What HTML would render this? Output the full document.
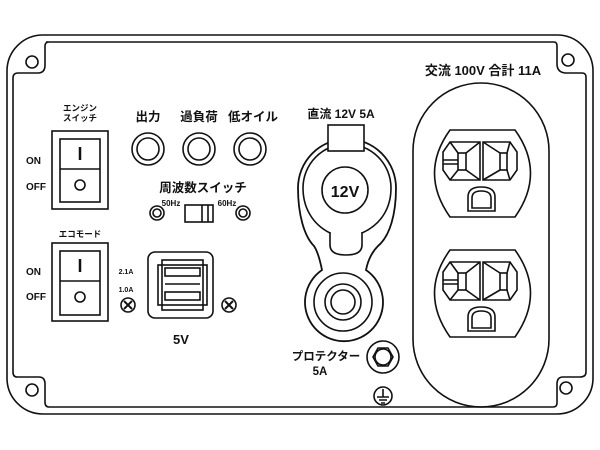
<!DOCTYPE html>
<html><head><meta charset="utf-8"><style>
html,body{margin:0;padding:0;background:#fff;}
svg{display:block;}
text{font-family:"Liberation Sans","Noto Sans CJK JP",sans-serif;fill:#111;font-weight:bold;}
</style></head><body>
<svg width="600" height="450" viewBox="0 0 600 450" xmlns="http://www.w3.org/2000/svg">
<g fill="none" stroke="#111" stroke-width="1.6">
<rect x="7" y="35" width="586" height="379" rx="36"/>
<path d="M46,42 L554,42 Q557,42 557,46 L557,64 Q557,72 565,73 L582,73 Q586,73 586,77 L586,372 Q586,377 580,377 L563,377 Q557,377 557,384 L557,403 Q557,407 553,407 L49,407 Q45,407 45,402 L45,384 Q45,377 39,377 L17,377 Q13,377 13,372 L13,78 Q13,73 18,73 L38,73 Q45,73 45,65 L45,46 Q45,42 49,42 Z"/>
<circle cx="32" cy="62" r="6"/><circle cx="32" cy="390" r="6"/>
<circle cx="568" cy="60" r="6"/><circle cx="566" cy="388" r="6"/>

<rect x="52" y="131" width="56" height="78"/>
<rect x="60" y="139" width="40" height="63"/>
<line x1="60" y1="169" x2="100" y2="169"/>
<line x1="80" y1="147" x2="80" y2="160" stroke-width="2.5"/>
<circle cx="80" cy="185" r="5"/>
<rect x="52" y="243" width="56" height="78"/>
<rect x="60" y="251" width="40" height="64"/>
<line x1="60" y1="281" x2="100" y2="281"/>
<line x1="80" y1="259" x2="80" y2="272" stroke-width="2.5"/>
<circle cx="80" cy="297" r="5"/>

<circle cx="148" cy="149" r="16"/><circle cx="148" cy="149" r="11"/>
<circle cx="199" cy="149" r="16"/><circle cx="199" cy="149" r="11"/>
<circle cx="250" cy="149" r="16"/><circle cx="250" cy="149" r="11"/>

<circle cx="157" cy="213" r="7"/><circle cx="157" cy="213" r="4"/>
<circle cx="243" cy="213" r="7"/><circle cx="243" cy="213" r="4"/>
<rect x="185" y="205" width="28" height="17"/>
<line x1="202" y1="205" x2="202" y2="222"/>
<line x1="208" y1="205" x2="208" y2="222"/>

<rect x="148" y="252" width="65" height="66" rx="7"/>
<rect x="162" y="260" width="41" height="50"/>
<rect x="158" y="265" width="49" height="40"/>
<rect x="165" y="268" width="35" height="8"/>
<rect x="165" y="292" width="35" height="8"/>
<line x1="165" y1="284" x2="200" y2="284"/>
<circle cx="128" cy="305" r="7"/><path d="M124,301 L132,309 M132,301 L124,309" stroke-width="2"/>
<circle cx="229" cy="305" r="7"/><path d="M225,301 L233,309 M233,301 L225,309" stroke-width="2"/>

<!-- 12V socket -->
<path d="M314,246 C304,236 298,214 298,188 A49,49 0 0 1 396,188 C396,214 390,236 378,246 C372,252 368,260 366,270 A39,39 0 1 1 322,270 C320,260 318,252 314,246 Z" stroke-width="1.8"/>
<path d="M330,233 C312,224 303,207 303,188 A44,44 0 0 1 391,188 C391,207 382,224 362,233"/>
<path d="M330,232 L330,245 Q330,255 346,255 Q362,255 362,245 L362,232"/>
<rect x="328" y="125" width="36" height="26" fill="#fff"/>
<circle cx="345" cy="190" r="23"/>
<circle cx="343" cy="302" r="29"/>
<circle cx="343" cy="302" r="18"/>
<circle cx="343" cy="302" r="12"/>

<circle cx="383" cy="357" r="16"/>
<polygon points="373,357 378,348 388,348 393,357 388,366 378,366"/>
<circle cx="383" cy="357" r="8"/>
<circle cx="383" cy="396" r="9"/>
<path d="M383,389 L383,397 M377,397 L389,397 M379,400 L387,400 M381,403 L385,403"/>

<rect x="413" y="83" width="136" height="324" rx="68"/>
<g id="out">
<path d="M450,130 L515,130 Q546,173 515,217 L450,217 Q419,173 450,130 Z"/>
<path d="M450,142 L480,142 L480,180 L450,180 L443,170 L443,152 Z"/>
<rect x="458" y="153" width="8" height="17"/>
<path d="M450,142 L458,153 M480,142 L466,153 M450,180 L458,170 M480,180 L466,170 M443,160 L458,160 M443,164 L458,164"/>
<path d="M483,142 L510,142 L517,152 L517,170 L510,180 L483,180 Z"/>
<rect x="500" y="153" width="7" height="17"/>
<path d="M483,142 L500,153 M510,142 L507,153 M483,180 L500,170 M510,180 L507,170"/>
<path d="M468,211 L468,197 Q468,187 481,187 Q495,187 495,197 L495,211 Z"/>
<path d="M472,208 L472,198 Q472,191 481,191 Q491,191 491,198 L491,208 Z"/>
</g>
<use href="#out" transform="translate(0,120)"/>
</g>

<text x="26" y="164" font-size="10" font-weight="normal">ON</text>
<text x="26" y="190" font-size="10" font-weight="normal">OFF</text>
<text x="26" y="275" font-size="10" font-weight="normal">ON</text>
<text x="26" y="300" font-size="10" font-weight="normal">OFF</text>
<text x="80" y="111" font-size="8.5" text-anchor="middle">エンジン</text>
<text x="80" y="121" font-size="8.5" text-anchor="middle">スイッチ</text>
<text x="80" y="237" font-size="8.5" text-anchor="middle">エコモード</text>
<text x="148" y="121" font-size="12.5" text-anchor="middle">出力</text>
<text x="199" y="121" font-size="12.5" text-anchor="middle">過負荷</text>
<text x="253" y="121" font-size="12.5" text-anchor="middle">低オイル</text>
<text x="203" y="192" font-size="12.5" text-anchor="middle">周波数スイッチ</text>
<text x="171" y="206" font-size="8" font-weight="normal" text-anchor="middle">50Hz</text>
<text x="227" y="206" font-size="8" font-weight="normal" text-anchor="middle">60Hz</text>
<text x="126" y="274" font-size="7" font-weight="normal" text-anchor="middle">2.1A</text>
<text x="126" y="292" font-size="7" font-weight="normal" text-anchor="middle">1.0A</text>
<text x="181" y="344" font-size="13" font-weight="normal" text-anchor="middle">5V</text>
<text x="341" y="118" font-size="12" text-anchor="middle">直流 12V 5A</text>
<text x="345" y="197" font-size="16" text-anchor="middle">12V</text>
<text x="326" y="360" font-size="11.5" text-anchor="middle">プロテクター</text>
<text x="320" y="375" font-size="11.5" text-anchor="middle">5A</text>
<text x="483" y="75" font-size="13" text-anchor="middle">交流 100V 合計 11A</text>
</svg>
</body></html>
